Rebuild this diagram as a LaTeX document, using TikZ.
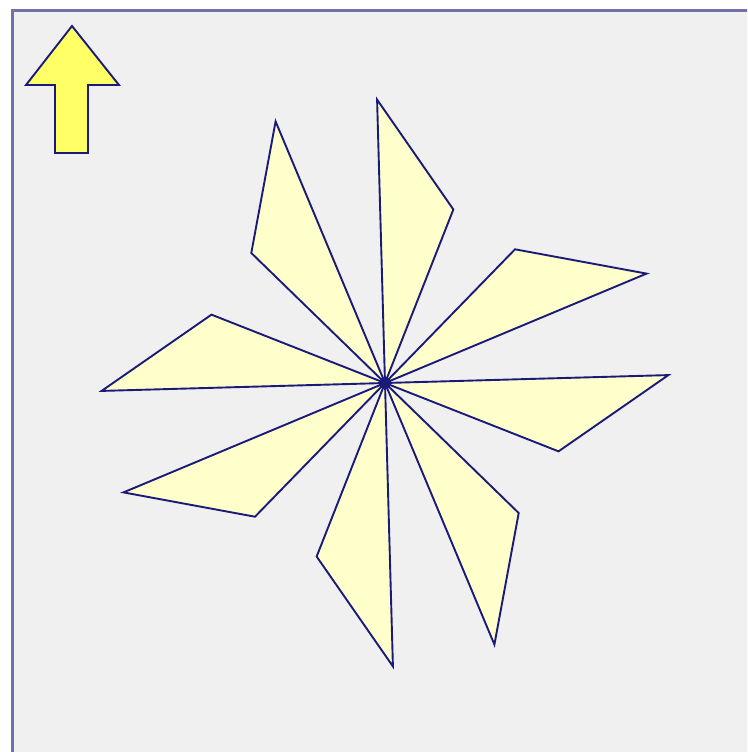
\documentclass[tikz,border=0pt]{standalone}
\usetikzlibrary{calc}
\begin{document}
\begin{tikzpicture}[x=1pt,y=1pt,
  frame/.style={draw=frameblue,line width=3pt,fill=panelgray},
  blade/.style={draw=navy,line width=1.9pt,fill=bladeyellow,line join=miter},
  uparrow/.style={draw=navy,line width=1.9pt,fill=arrowyellow,line join=miter}]
\definecolor{frameblue}{HTML}{7272A8}
\definecolor{panelgray}{HTML}{F0F0F0}
\definecolor{navy}{HTML}{1A1A78}
\definecolor{bladeyellow}{HTML}{FFFFCC}
\definecolor{arrowyellow}{HTML}{FFFF66}
\useasboundingbox (0,-752) rectangle (747,0);
\begin{scope}
\clip (0,-752) rectangle (747,0);
\draw[frame] (12,-11) rectangle (770,-775);
\end{scope}
% arrow
\draw[uparrow] (72,-26) -- (119,-85) -- (88,-85) -- (88,-153) -- (55,-153) -- (55,-85) -- (26,-85) -- cycle;
% pinwheel
\coordinate (c) at (385,-383);
\foreach \r in {0,-90,-180,-270}{
  \draw[blade] (c) -- ($(c)+({91.6+\r}:283.5)$) -- ($(c)+({68.5+\r}:186.5)$) -- cycle;
  \draw[blade] (c) -- ($(c)+({22.7+\r}:283.5)$) -- ($(c)+({45.8+\r}:186.5)$) -- cycle;
}
\fill[navy] (c) circle (6);
\end{tikzpicture}
\end{document}
